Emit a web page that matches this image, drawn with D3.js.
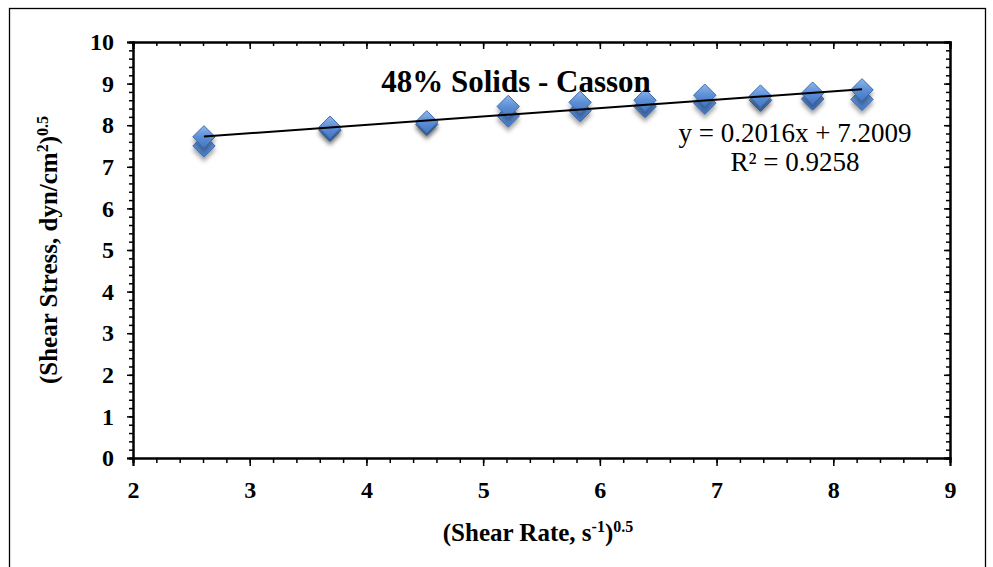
<!DOCTYPE html>
<html>
<head>
<meta charset="utf-8">
<script src="https://cdn.jsdelivr.net/npm/d3@7"></script>
<style>
  html, body { margin: 0; padding: 0; background: #fff; }
  svg { display: block; }
</style>
</head>
<body>
<svg id="chart" width="993" height="567"></svg>
<script>
// ---- data ----
const shearRateSqrt = [2.608, 3.688, 4.517, 5.215, 5.831, 6.387, 6.899, 7.376, 7.823, 8.246];
const stressRunA   = [7.72, 7.95, 8.08, 8.45, 8.55, 8.60, 8.72, 8.70, 8.77, 8.85];
const stressRunB   = [7.50, 7.88, 8.02, 8.22, 8.35, 8.45, 8.53, 8.60, 8.63, 8.62];
const fitSlope = 0.2016;
const fitIntercept = 7.2009;
const xMajorTicks = [2, 3, 4, 5, 6, 7, 8, 9];
const yMajorTicks = [0, 1, 2, 3, 4, 5, 6, 7, 8, 9, 10];
const titleText = "48% Solids - Casson";
const eqText = "y = 0.2016x + 7.2009";
const r2Text = "R² = 0.9258";

// ---- layout ----
const svg = d3.select("#chart");
const L = 133, R = 950, T = 42, B = 458;
const x = d3.scaleLinear().domain([2, 9]).range([L, R]);
const y = d3.scaleLinear().domain([0, 10]).range([B, T]);
const font = "'Liberation Serif', 'Times New Roman', serif";

// outer frame
svg.append("rect").attr("x", 9.5).attr("y", 8.5).attr("width", 976).attr("height", 600)
  .attr("fill", "none").attr("stroke", "#000").attr("stroke-width", 1.3);

const defs = svg.append("defs");
const grad = defs.append("linearGradient").attr("id", "dg").attr("x1", 0).attr("y1", 0).attr("x2", 0).attr("y2", 1);
grad.append("stop").attr("offset", "0%").attr("stop-color", "#8fb6ec");
grad.append("stop").attr("offset", "50%").attr("stop-color", "#5d8fd6");
grad.append("stop").attr("offset", "100%").attr("stop-color", "#4477c2");
const filt = defs.append("filter").attr("id", "sh").attr("x", "-50%").attr("y", "-50%").attr("width", "200%").attr("height", "200%");
filt.append("feDropShadow").attr("dx", 0).attr("dy", 4).attr("stdDeviation", 2.2)
  .attr("flood-color", "#000").attr("flood-opacity", 0.35);

// minor tick values
const minor = (a, b, step) => d3.range(Math.round((b - a) / step) + 1).map(i => +(a + i * step).toFixed(4));
const xMinor = minor(2, 9, 0.2);
const yMinor = minor(0, 10, 0.2);

function styleAxis(g) {
  g.select(".domain").attr("stroke", "#000").attr("stroke-width", 2);
  g.selectAll(".tick line").attr("stroke", "#000").attr("stroke-width", 1.5);
}

// bottom axis
svg.append("g").attr("transform", `translate(0,${B})`)
  .call(d3.axisBottom(x).tickValues(xMinor).tickSize(5).tickFormat(""))
  .call(styleAxis);
const gxb = svg.append("g").attr("transform", `translate(0,${B})`)
  .call(d3.axisBottom(x).tickValues(xMajorTicks).tickSize(8).tickPadding(15).tickFormat(d3.format("d")))
  .call(styleAxis);
gxb.selectAll("text").attr("font-family", font).attr("font-weight", "bold").attr("font-size", 24).attr("fill", "#000");

// top axis (ticks inside)
svg.append("g").attr("transform", `translate(0,${T})`)
  .call(d3.axisTop(x).tickValues(xMinor).tickSize(-4).tickFormat(""))
  .call(styleAxis);
svg.append("g").attr("transform", `translate(0,${T})`)
  .call(d3.axisTop(x).tickValues(xMajorTicks).tickSize(-7).tickFormat(""))
  .call(styleAxis);

// left axis
svg.append("g").attr("transform", `translate(${L},0)`)
  .call(d3.axisLeft(y).tickValues(yMinor).tickSize(4).tickFormat(""))
  .call(styleAxis);
const gyl = svg.append("g").attr("transform", `translate(${L},0)`)
  .call(d3.axisLeft(y).tickValues(yMajorTicks).tickSize(6).tickPadding(13).tickFormat(d3.format("d")))
  .call(styleAxis);
gyl.selectAll("text").attr("font-family", font).attr("font-weight", "bold").attr("font-size", 24).attr("fill", "#000");

// right axis (ticks inside)
svg.append("g").attr("transform", `translate(${R},0)`)
  .call(d3.axisRight(y).tickValues(yMinor).tickSize(-4).tickFormat(""))
  .call(styleAxis);
svg.append("g").attr("transform", `translate(${R},0)`)
  .call(d3.axisRight(y).tickValues(yMajorTicks).tickSize(-6).tickFormat(""))
  .call(styleAxis);

// diamonds
const pts = [];
shearRateSqrt.forEach((xv, i) => pts.push({ x: xv, y: stressRunB[i] }));
shearRateSqrt.forEach((xv, i) => pts.push({ x: xv, y: stressRunA[i] }));
const sym = d3.symbol().type(d3.symbolDiamond2).size(320);
svg.append("g").selectAll("path").data(pts).join("path")
  .attr("d", sym)
  .attr("transform", d => `translate(${x(d.x)},${y(d.y)})`)
  .attr("fill", "url(#dg)")
  .attr("stroke", "#3b6cb3").attr("stroke-width", 1)
  .attr("stroke-linejoin", "round")
  .attr("filter", "url(#sh)");

// title
svg.append("text").attr("x", 516).attr("y", 92).attr("text-anchor", "middle")
  .attr("font-family", font).attr("font-weight", "bold").attr("font-size", 31).attr("fill", "#000")
  .text(titleText);

// trendline
const xExt = d3.extent(shearRateSqrt);
svg.append("line")
  .attr("x1", x(xExt[0])).attr("y1", y(fitSlope * xExt[0] + fitIntercept))
  .attr("x2", x(xExt[1])).attr("y2", y(fitSlope * xExt[1] + fitIntercept))
  .attr("stroke", "#000").attr("stroke-width", 2);

// equation
svg.append("text").attr("x", 795).attr("y", 142).attr("text-anchor", "middle")
  .attr("font-family", font).attr("font-size", 27).attr("fill", "#000").text(eqText);
svg.append("text").attr("x", 795).attr("y", 171).attr("text-anchor", "middle")
  .attr("font-family", font).attr("font-size", 27).attr("fill", "#000").text(r2Text);

// x axis title
const xt = svg.append("text").attr("x", 538).attr("y", 541).attr("text-anchor", "middle")
  .attr("font-family", font).attr("font-weight", "bold").attr("font-size", 25).attr("fill", "#000");
xt.append("tspan").text("(Shear Rate, s");
xt.append("tspan").attr("dy", -9).attr("font-size", 16).text("-1");
xt.append("tspan").attr("dy", 9).text(")");
xt.append("tspan").attr("dy", -9).attr("font-size", 16).text("0.5");

// y axis title
const yt = svg.append("text").attr("transform", "translate(57,250) rotate(-90)").attr("text-anchor", "middle")
  .attr("font-family", font).attr("font-weight", "bold").attr("font-size", 25).attr("fill", "#000");
yt.append("tspan").text("(Shear Stress, dyn/cm");
yt.append("tspan").attr("dy", -9).attr("font-size", 16).text("2");
yt.append("tspan").attr("dy", 9).text(")");
yt.append("tspan").attr("dy", -9).attr("font-size", 16).text("0.5");
</script>
</body>
</html>
